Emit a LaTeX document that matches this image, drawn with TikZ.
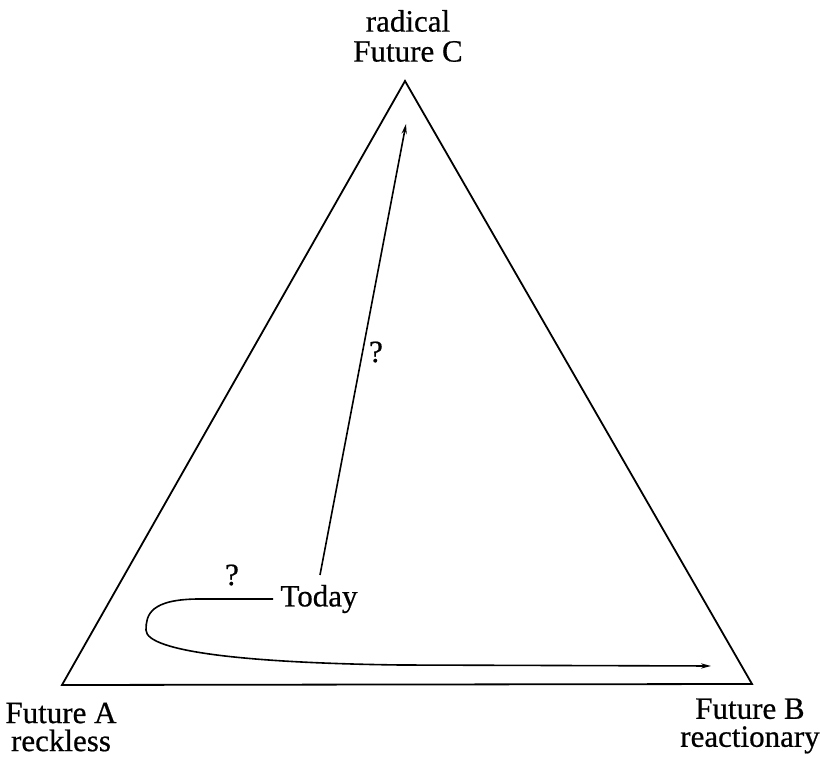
\documentclass[tikz,border=0pt]{standalone}
\usepackage{fontspec}
\setmainfont{Liberation Serif}[FakeBold=0.6]
\usetikzlibrary{arrows.meta,positioning}
\tikzset{
	label/.style={align=center,inner sep=0pt,font=\fontsize{15.5}{14}\selectfont},
	toplabel/.style={label,font=\fontsize{15.5}{15}\selectfont},
	edge/.style={line width=0.9pt,line join=miter},
	link/.style={-{Stealth[length=5pt,width=2.6pt]},line width=0.8pt}
}
\begin{document}
\begin{tikzpicture}[x=0.5pt,y=-0.5pt]
		\useasboundingbox (0,0) rectangle (820,758);
		\coordinate (futa) at (62,685);
		\coordinate (futb) at (752,684);
		\coordinate (futc) at (405,81);
		\draw[edge] (futa) -- (futb) -- (futc) -- cycle;
		
		\node[toplabel] (radical) at (408,36) {radical\\Future C};
		\node[label] (reckless) at (61,727) {Future A\\reckless};
		\node[label] (reactionary) at (750,726) {Future B\\reactionary};
		
		\node[label,inner xsep=3.5pt] (today) at (319,599) {Today};
		\node[label] (qup) at (376,352) {?};
		\node[label] (qleft) at (232,575) {?};
		
		\coordinate (tstart) at (320,575);
		\coordinate (ctip) at (406,124);
		\coordinate (btip) at (711,666);
		
		\draw[link] (tstart) -- (ctip);
		\draw[link] (today.west) -- (200,599) .. controls (150,599) and (146,615) .. (146,630)
			.. controls (146,652) and (250,663) .. (400,665) -- (btip);
		\end{tikzpicture}
\end{document}
